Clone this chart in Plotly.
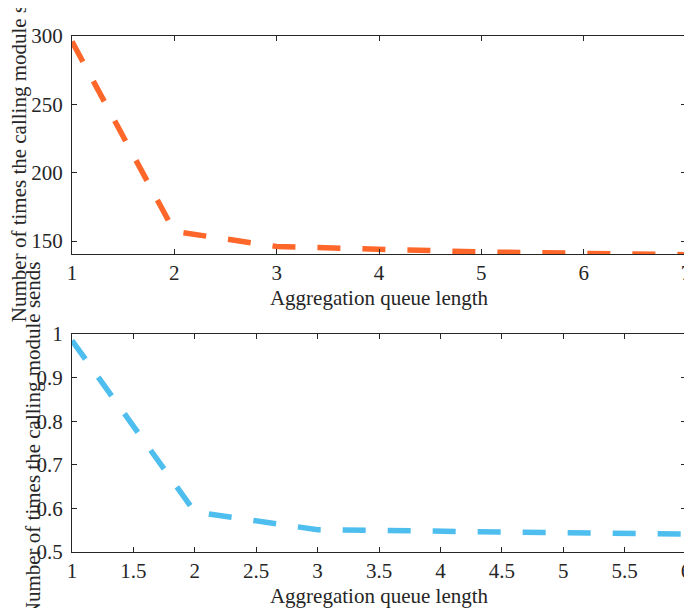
import plotly.graph_objects as go
from plotly.subplots import make_subplots

queue_len_top = [1, 2, 3, 4, 5, 6, 7]
sends_top = [296, 157, 146, 143.5, 142, 141, 140]

queue_len_bottom = [1, 2, 3, 4, 5, 6]
sends_bottom = [0.985, 0.592, 0.551, 0.547, 0.543, 0.541]

x_title = "Aggregation queue length"
y_title = "Number of times the calling module sends"

font_family = "Liberation Serif"
axis_col = "#262626"
fs = 21

fig = make_subplots(rows=2, cols=1, vertical_spacing=0.155)

fig.add_trace(go.Scatter(x=queue_len_top, y=sends_top, mode="lines",
                         line=dict(color="#FF6629", width=5.5, dash="23px,22px"),
                         showlegend=False), row=1, col=1)
fig.add_trace(go.Scatter(x=queue_len_bottom, y=sends_bottom, mode="lines",
                         line=dict(color="#4DBEEE", width=5.5, dash="23px,22px"),
                         showlegend=False), row=2, col=1)

common = dict(showline=True, linecolor=axis_col, linewidth=1, mirror="ticks",
              ticks="inside", ticklen=5, tickcolor=axis_col, showgrid=False,
              zeroline=False, automargin=False,
              tickfont=dict(family=font_family, size=fs, color=axis_col))

fig.update_xaxes(**common)
fig.update_yaxes(**common, ticklabelstandoff=4)

fig.update_xaxes(range=[1, 7], tickmode="linear", tick0=1, dtick=1,
                 title=dict(text=x_title, standoff=6,
                            font=dict(family=font_family, size=fs, color=axis_col)),
                 row=1, col=1)
fig.update_xaxes(range=[1, 6], tickmode="linear", tick0=1, dtick=0.5,
                 title=dict(text=x_title, standoff=6,
                            font=dict(family=font_family, size=fs, color=axis_col)),
                 row=2, col=1)
fig.update_yaxes(range=[140.5, 300], tickmode="array", tickvals=[150, 200, 250, 300],
                 domain=[0.5775, 1.0], row=1, col=1)
fig.update_yaxes(range=[0.5, 1.0], tickmode="array",
                 tickvals=[0.5, 0.6, 0.7, 0.8, 0.9, 1.0],
                 ticktext=["0.5", "0.6", "0.7", "0.8", "0.9", "1"],
                 domain=[0.0, 0.4225], row=2, col=1)

fig.add_annotation(text=y_title, textangle=-90, xref="paper", yref="paper",
                   x=-0.085, y=0.79, xanchor="center", yanchor="middle", showarrow=False,
                   font=dict(family=font_family, size=fs, color=axis_col))
fig.add_annotation(text=y_title, textangle=-90, xref="paper", yref="paper",
                   x=-0.064, y=0.218, xanchor="center", yanchor="middle", showarrow=False,
                   font=dict(family=font_family, size=fs, color=axis_col))

fig.update_layout(width=684, height=600, margin=dict(l=64, r=6, t=28, b=56),
                  paper_bgcolor="white", plot_bgcolor="white",
                  font=dict(family=font_family, color=axis_col))

fig.write_html("out.html")
